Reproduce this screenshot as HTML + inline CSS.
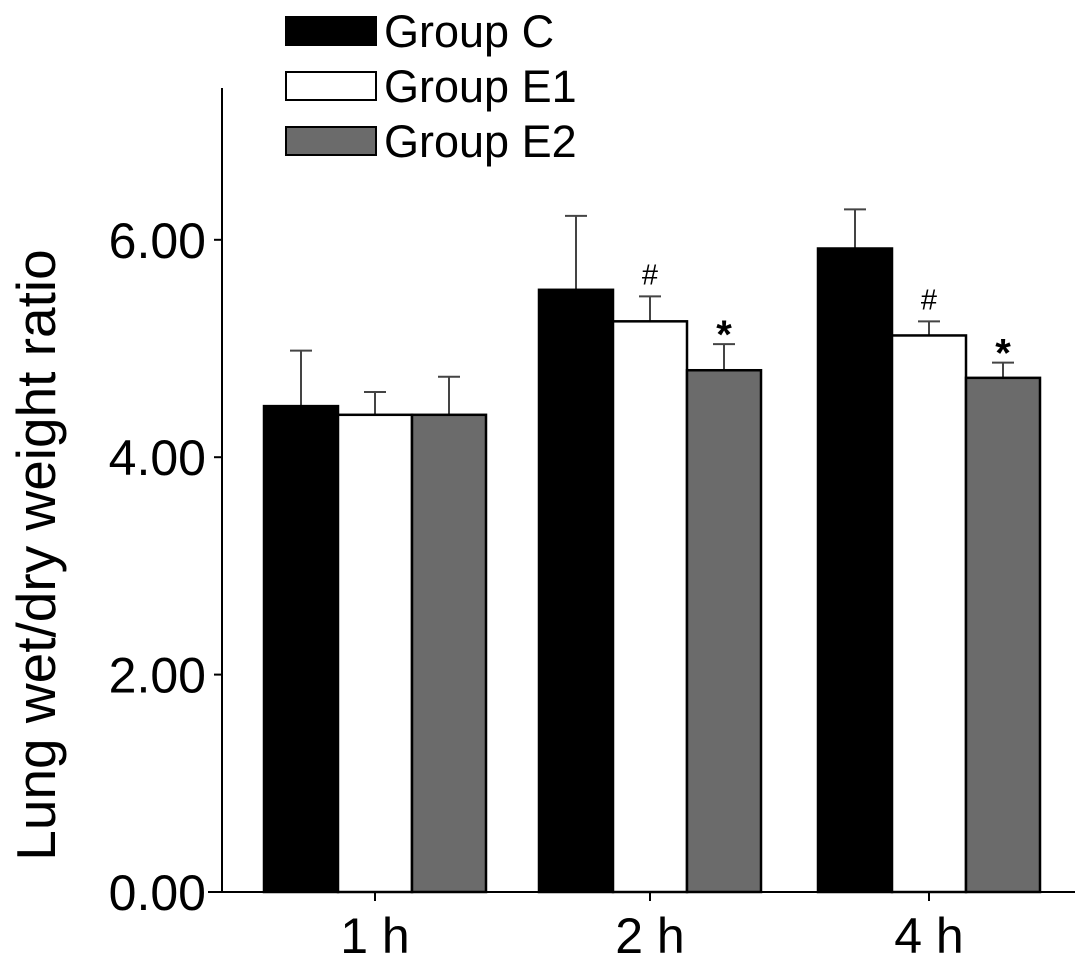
<!DOCTYPE html>
<html><head><meta charset="utf-8"><style>
body{margin:0;background:#fff}
svg text{font-family:"Liberation Sans",Arial,sans-serif}
</style></head><body>
<svg width="1087" height="974" viewBox="0 0 1087 974">
<g id="plot"></g>
</svg>
<script>
const categories=["1 h","2 h","4 h"];
const seriesNames=["Group C","Group E1","Group E2"];
const valuesC=[4.47,5.54,5.92];
const valuesE1=[4.39,5.25,5.12];
const valuesE2=[4.39,4.80,4.73];
const errC=[0.51,0.68,0.36];
const errE1=[0.21,0.23,0.13];
const errE2=[0.35,0.24,0.14];
const marksE1=["","#","#"];
const marksE2=["","*","*"];
const yTicks=[0,2,4,6];
const yTickLabels=["0.00","2.00","4.00","6.00"];

const NS="http://www.w3.org/2000/svg";
const g=document.getElementById('plot');
const x0=222,x1=1075,y0=892,pxPer=108.7;
const centers=[375,650,929];
const barW=74;
const fills=["#000","#fff","#6b6b6b"];
const yS=v=>y0-v*pxPer;
function el(t,a,txt){const e=document.createElementNS(NS,t);for(const k in a)e.setAttribute(k,a[k]);if(txt!==undefined)e.textContent=txt;g.appendChild(e);return e;}
const all=[valuesC,valuesE1,valuesE2],errs=[errC,errE1,errE2];
categories.forEach((c,i)=>{
  all.forEach((vals,s)=>{
    const x=centers[i]+(s-1.5)*barW;
    const bx=x+barW/2;
    const eb=el('line',{x1:bx,x2:bx,y1:yS(vals[i]),y2:yS(vals[i]+errs[s][i]),stroke:'#444','stroke-width':2});
    
    
    const cap=el('line',{x1:bx-11,x2:bx+11,y1:yS(vals[i]+errs[s][i]),y2:yS(vals[i]+errs[s][i]),stroke:'#444','stroke-width':2});
    
    
    const r=el('rect',{x:x,y:yS(vals[i]),width:barW,height:vals[i]*pxPer,fill:fills[s],stroke:'#000','stroke-width':2.5});
    
    
  });
  const m1=el('text',{x:centers[i],y:yS(valuesE1[i]+errE1[i])-12,'font-size':29,'text-anchor':'middle'},marksE1[i]);
  
  
  const m2=el('text',{x:centers[i]+74,y:yS(valuesE2[i]+errE2[i])+4,'font-size':40,'font-weight':'bold','text-anchor':'middle'},marksE2[i]);
  
  
  const tk=el('line',{x1:centers[i],x2:centers[i],y1:y0,y2:y0+9,stroke:'#000','stroke-width':2});
  
  
  const tl=el('text',{x:centers[i],y:953,'font-size':50,'text-anchor':'middle'},c);
  
  
});
yTicks.forEach((v,i)=>{
  const t=el('line',{x1:x0-8,x2:x0,y1:yS(v),y2:yS(v),stroke:'#000','stroke-width':2});
  
  
  const l=el('text',{x:x0-16,y:yS(v)+18,'font-size':50,'text-anchor':'end'},yTickLabels[i]);
  
  
});
const ya=el('line',{x1:x0,x2:x0,y1:88,y2:y0,stroke:'#000','stroke-width':2});


const xa=el('line',{x1:x0-14,x2:x1,y1:y0,y2:y0,stroke:'#000','stroke-width':2});


const yt=el('text',{x:0,y:0,'font-size':55,'text-anchor':'middle',transform:'translate(55,555) rotate(-90)'},'Lung wet/dry weight ratio');


seriesNames.forEach((n,s)=>{
  const y=17+s*55;
  const r=el('rect',{x:286,y:y,width:90,height:28,fill:fills[s],stroke:'#000','stroke-width':2});
  
  
  const t=el('text',{x:384,y:y+30,'font-size':45},n);
  
  
});
</script>
</body></html>
